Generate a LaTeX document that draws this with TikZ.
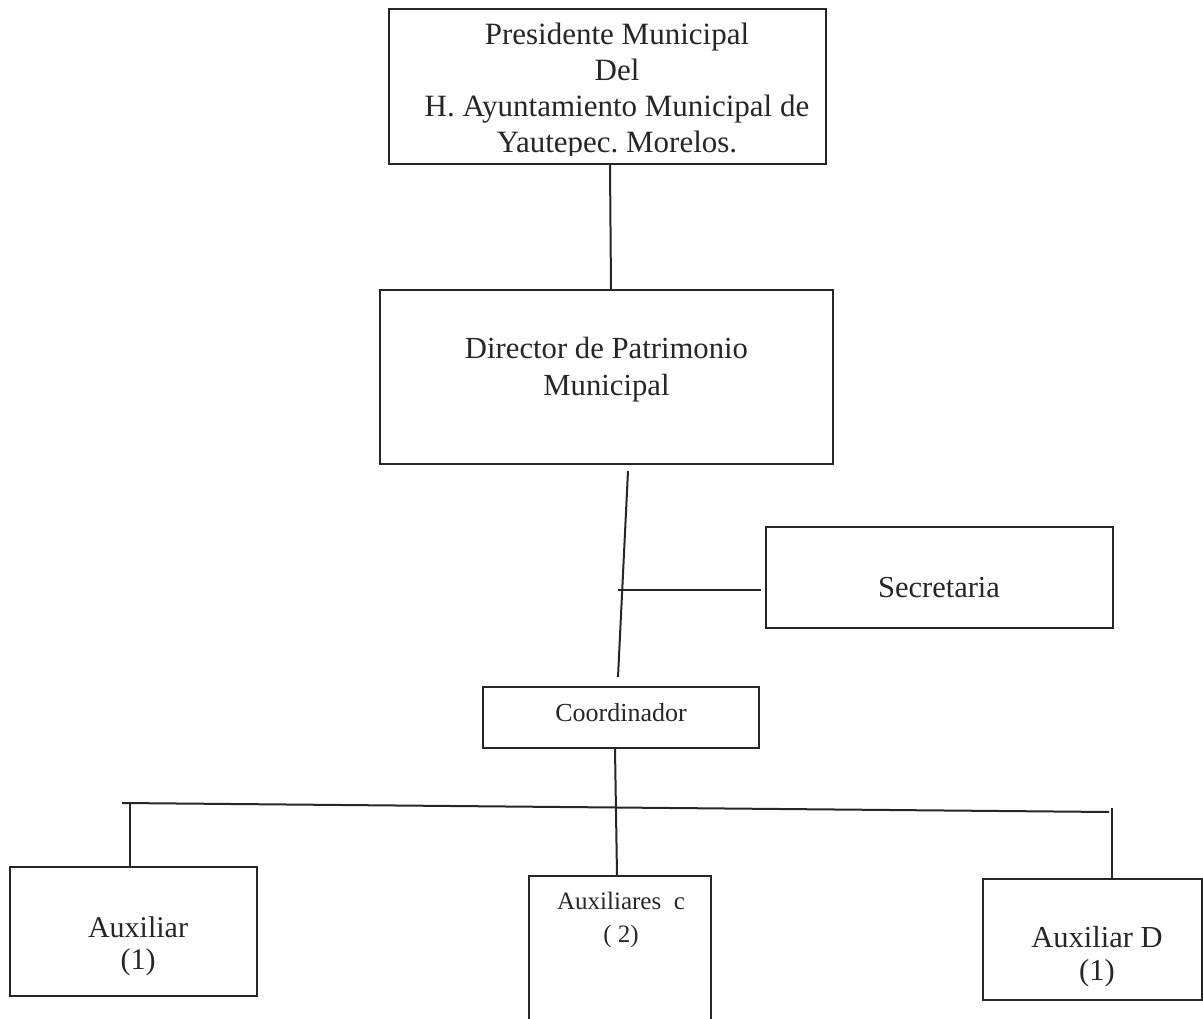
\documentclass[tikz,border=0pt]{standalone}
\usepackage{fontspec}
\setmainfont{Liberation Serif}
\usetikzlibrary{calc}
\definecolor{ink}{HTML}{262626}
\frenchspacing
\begin{document}
\begin{tikzpicture}[x=1pt,y=-1pt,
  box/.style={draw=ink, line width=2pt, inner sep=0pt},
  lbl/.style={anchor=base, inner sep=0pt, text=ink},
  conn/.style={draw=ink, line width=2pt}]
\useasboundingbox[fill=white] (0,0) rectangle (1203,1019);

% boxes
\node[box, minimum width=437pt, minimum height=155pt] (pres) at (607.5,86.5) {};
\node[box, minimum width=453pt, minimum height=174pt] (dir) at (606.5,377) {};
\node[box, minimum width=347pt, minimum height=101pt] (sec) at (939.5,577.5) {};
\node[box, minimum width=276pt, minimum height=61pt] (coord) at (621,717.5) {};
\node[box, minimum width=247pt, minimum height=129pt] (auxa) at (133.5,931.5) {};
\node[box, minimum width=182pt, minimum height=154pt] (auxc) at (620,953) {};
\node[box, minimum width=219pt, minimum height=121pt] (auxd) at (1092.5,939.5) {};

% texts
\begin{scope}
\clip (380,0) rectangle (840,156);
\node[lbl, font=\fontsize{31}{36}\selectfont] (t1) at (617,45) {Presidente Municipal};
\node[lbl, font=\fontsize{31}{36}\selectfont] (t2) at (617,81) {Del};
\node[lbl, font=\fontsize{31}{36}\selectfont] (t3) at (617,117) {H. Ayuntamiento Municipal de};
\node[lbl, font=\fontsize{31}{36}\selectfont] (t4) at (617,153) {Yautepec. Morelos.};
\end{scope}
\node[lbl, font=\fontsize{30.7}{36}\selectfont] (d1) at (606.5,358) {Director de Patrimonio};
\node[lbl, font=\fontsize{30.7}{36}\selectfont] (d2) at (606.5,395) {Municipal};
\node[lbl, font=\fontsize{30.5}{36}\selectfont] (s1) at (939,597) {Secretaria};
\node[lbl, font=\fontsize{26}{30}\selectfont] (c1) at (621,721) {Coordinador};
\node[lbl, font=\fontsize{25}{30}\selectfont] (x1) at (621,909) {Auxiliares\ \ c};
\node[lbl, font=\fontsize{25}{30}\selectfont] (x2) at (621,942) {( 2)};
\node[lbl, font=\fontsize{30}{36}\selectfont] (a1) at (138,937) {Auxiliar};
\node[lbl, font=\fontsize{30}{36}\selectfont] (a2) at (138,969) {(1)};
\node[lbl, font=\fontsize{30.5}{36}\selectfont] (e1) at (1097,947) {Auxiliar D};
\node[lbl, font=\fontsize{30.5}{36}\selectfont] (e2) at (1097,980) {(1)};

% connectors
\coordinate (j1) at (618,590);
\coordinate (bl) at (122,803);
\coordinate (br) at (1109,812);
\coordinate (ba) at (130,803);
\coordinate (bd) at (1112,808);

\draw[conn] ($(pres.south)+(2.5,0)$) -- ($(dir.north)+(4.5,0)$);
\draw[conn] ($(dir.south)+(21.5,6)$) -- ($(coord.north)+(-3,-9)$);
\draw[conn] (j1) -- ($(sec.west)+(-4,12.5)$);
\draw[conn] ($(coord.south)+(-6,0)$) -- ($(auxc.north)+(-3,0)$);
\draw[conn] (bl) -- (br);
\draw[conn] (ba) -- ($(auxa.north)+(-3.5,0)$);
\draw[conn] (bd) -- ($(auxd.north)+(19.5,0)$);
\end{tikzpicture}
\end{document}
